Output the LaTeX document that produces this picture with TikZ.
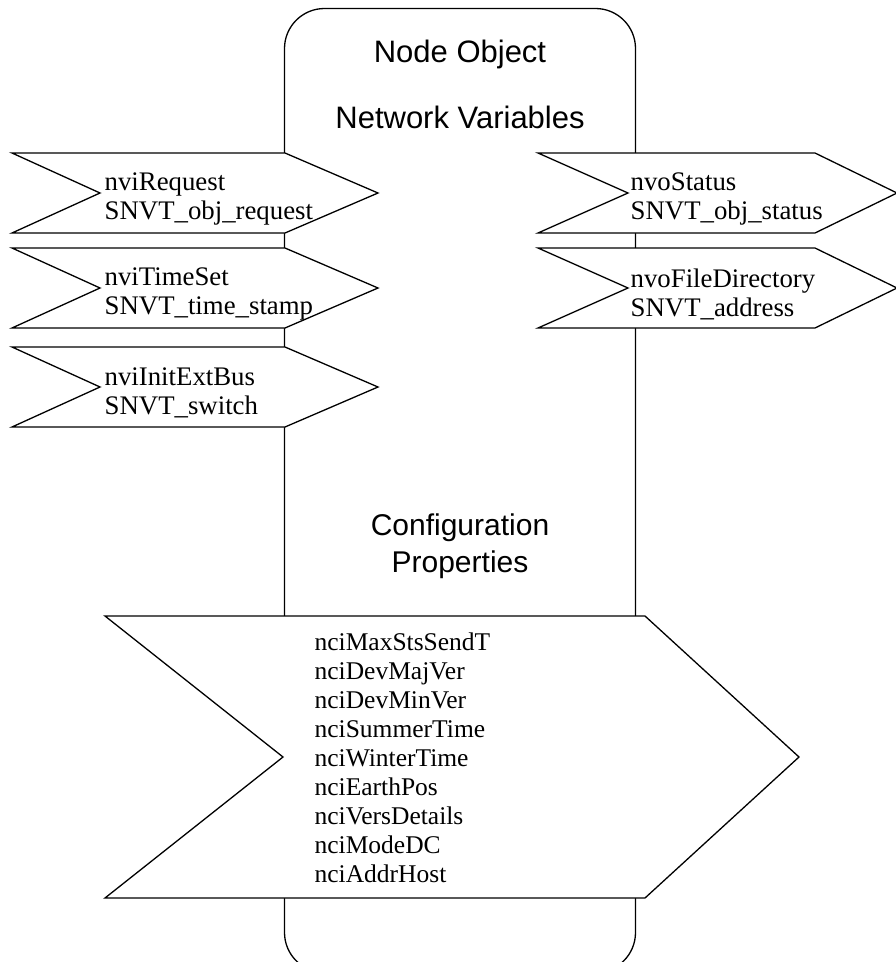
\documentclass[tikz,border=0pt]{standalone}
\usepackage{fontspec}
\setmainfont{Liberation Serif}
\newfontfamily\labelfont{Liberation Sans}

\begin{document}
\begin{tikzpicture}[x=1pt, y=-1pt, line width=1.3pt,
    nvbox/.style={draw, fill=white, line join=miter},
    nvtext/.style={anchor=west, align=left, inner sep=0pt, font=\fontsize{26.8}{29}\selectfont},
    title/.style={anchor=base, inner sep=0pt, font=\labelfont\fontsize{31}{36}\selectfont}]

    \useasboundingbox (0,0) rectangle (896,962);

    % the node object itself
    \node[draw, rounded corners=40pt, minimum width=351pt, minimum height=964pt, inner sep=0pt] (obj) at (460,490.5) {};

    \node[title] (nodeobj) at (460,62) {Node Object};
    \node[title] (netvars) at (460,128) {Network Variables};
    \node[title, font=\labelfont\fontsize{30}{36}\selectfont] (config) at (460,535) {Configuration};
    \node[title, font=\labelfont\fontsize{30}{36}\selectfont] (props) at (460,572) {Properties};

    % inputs
    \draw[nvbox] (12,153) -- (285,153) -- (378,193) -- (285,233) -- (12,233) -- (100,193) -- cycle;
    \node[nvtext] (request) at (104,199) {nviRequest\\SNVT\_obj\_request};
    \draw[nvbox] (12,248) -- (285,248) -- (378,288) -- (285,328) -- (12,328) -- (100,288) -- cycle;
    \node[nvtext] (timeset) at (104,294) {nviTimeSet\\SNVT\_time\_stamp};
    \draw[nvbox] (12,347) -- (285,347) -- (378,387) -- (285,427) -- (12,427) -- (100,387) -- cycle;
    \node[nvtext] (initbus) at (104,393) {nviInitExtBus\\SNVT\_switch};

    % outputs
    \draw[nvbox] (538,153) -- (815,153) -- (897,193) -- (815,233) -- (538,233) -- (628,193) -- cycle;
    \node[nvtext] (status) at (630,199) {nvoStatus\\SNVT\_obj\_status};
    \draw[nvbox] (538,248) -- (815,248) -- (897,288) -- (815,328) -- (538,328) -- (628,288) -- cycle;
    \node[nvtext] (filedir) at (630,294) {nvoFileDirectory\\SNVT\_address};

    % configuration properties
    \draw[nvbox] (105,616) -- (645,616) -- (799,757) -- (645,898) -- (105,898) -- (283,757) -- cycle;
    \node[nvtext, font=\fontsize{25.5}{29}\selectfont] (cprops) at (314,758) {nciMaxStsSendT\\nciDevMajVer\\nciDevMinVer\\nciSummerTime\\nciWinterTime\\nciEarthPos\\nciVersDetails\\nciModeDC\\nciAddrHost};

\end{tikzpicture}
\end{document}
